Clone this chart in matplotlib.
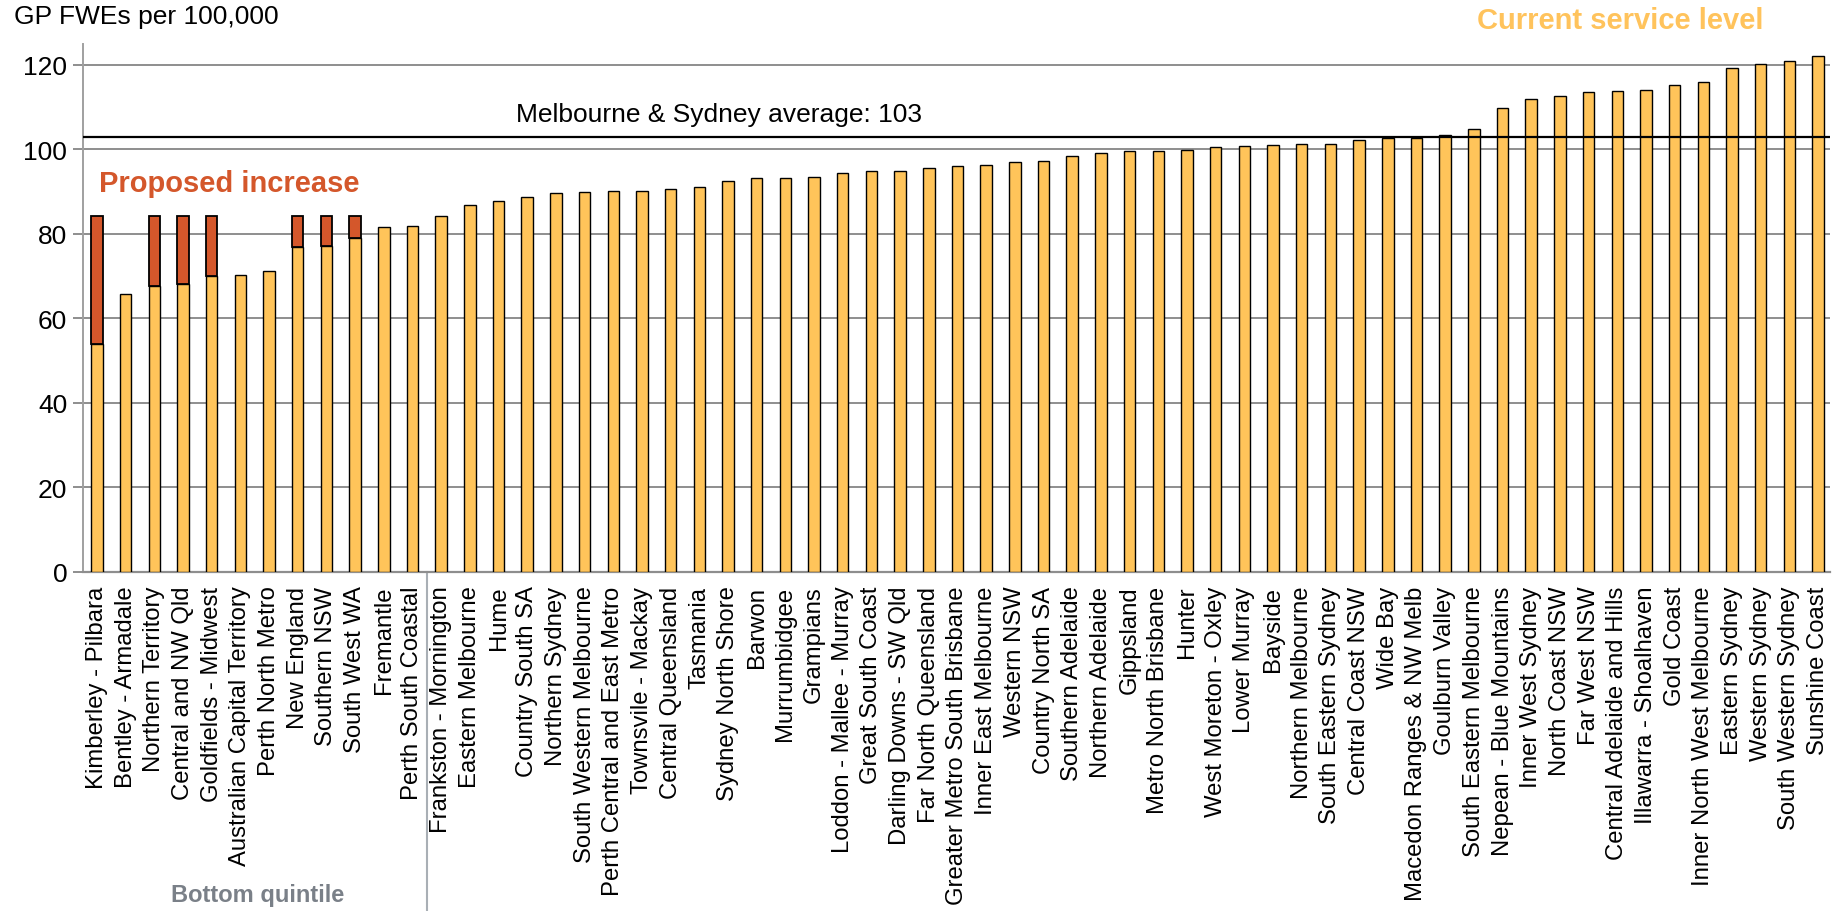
import matplotlib.pyplot as plt
from matplotlib.transforms import blended_transform_factory

plt.rcParams.update({
    "font.family": ["Liberation Sans", "DejaVu Sans"],
    "font.size": 19,
})

regions = [
    "Kimberley - Pilbara", "Bentley - Armadale", "Northern Territory",
    "Central and NW Qld", "Goldfields - Midwest", "Australian Capital Territory",
    "Perth North Metro", "New England", "Southern NSW", "South West WA",
    "Fremantle", "Perth South Coastal", "Frankston - Mornington",
    "Eastern Melbourne", "Hume", "Country South SA", "Northern Sydney",
    "South Western Melbourne", "Perth Central and East Metro",
    "Townsvile - Mackay", "Central Queensland", "Tasmania",
    "Sydney North Shore", "Barwon", "Murrumbidgee", "Grampians",
    "Loddon - Mallee - Murray", "Great South Coast", "Darling Downs - SW Qld",
    "Far North Queensland", "Greater Metro South Brisbane",
    "Inner East Melbourne", "Western NSW", "Country North SA",
    "Southern Adelaide", "Northern Adelaide", "Gippsland",
    "Metro North Brisbane", "Hunter", "West Moreton - Oxley", "Lower Murray",
    "Bayside", "Northern Melbourne", "South Eastern Sydney",
    "Central Coast NSW", "Wide Bay", "Macedon Ranges & NW Melb",
    "Goulburn Valley", "South Eastern Melbourne", "Nepean - Blue Mountains",
    "Inner West Sydney", "North Coast NSW", "Far West NSW",
    "Central Adelaide and Hills", "Illawarra - Shoalhaven", "Gold Coast",
    "Inner North West Melbourne", "Eastern Sydney", "Western Sydney",
    "South Western Sydney", "Sunshine Coast",
]

current_level = [
    54.0, 65.7, 67.6, 68.2, 69.9, 70.2, 71.3, 76.8, 77.1, 79.1,
    81.6, 81.8, 84.1, 86.9, 87.7, 88.8, 89.6, 89.9, 90.2, 90.2,
    90.5, 91.0, 92.4, 93.3, 93.3, 93.5, 94.4, 94.9, 94.9, 95.5,
    96.0, 96.3, 96.9, 97.2, 98.3, 99.1, 99.7, 99.7, 99.9, 100.5,
    100.8, 101.1, 101.3, 101.3, 102.1, 102.6, 102.7, 103.5, 104.7, 109.7,
    112.0, 112.5, 113.5, 113.7, 114.0, 115.2, 115.9, 119.3, 120.3, 121.0,
    122.2,
]

# proposed service level (None = no increase proposed)
proposed_level = [
    84.1, None, 84.1, 84.1, 84.1, None, None, 84.1, 84.1, 84.1,
] + [None] * 51

benchmark = 103
bottom_quintile_n = 12

BAR = "#FFC45A"
RED = "#D4572B"
GRID = "#8E8E8E"

fig = plt.figure(figsize=(18.48, 9.12), dpi=100)
ax = fig.add_axes([0.0447, 0.372, 0.9453, 0.579])

x = list(range(len(regions)))
ax.bar(x, current_level, width=0.4, color=BAR, edgecolor="black",
       linewidth=1.0, zorder=3)

inc_x = [i for i, p in enumerate(proposed_level) if p is not None]
inc_h = [proposed_level[i] - current_level[i] for i in inc_x]
inc_b = [current_level[i] for i in inc_x]
ax.bar(inc_x, inc_h, bottom=inc_b, width=0.4, color=RED, edgecolor="black",
       linewidth=1.3, zorder=3)

ax.axhline(benchmark, color="black", linewidth=1.6, zorder=4)
ax.text(14.6, 108.3, f"Melbourne & Sydney average: {benchmark}",
        ha="left", va="center", fontsize=19)

ax.set_xlim(-0.5, 60.4)
ax.set_ylim(0, 125)
ax.set_yticks(range(0, 121, 20))
ax.set_xticks(x)
ax.set_xticklabels(regions, rotation=90, ha="center", va="top")

ax.grid(axis="y", color=GRID, linewidth=1.4, zorder=0)
ax.tick_params(axis="y", length=7, width=1.4, color=GRID, pad=4, labelsize=19)
ax.tick_params(axis="x", length=0, pad=10, labelsize=17.2)
for side in ("top", "right"):
    ax.spines[side].set_visible(False)
ax.spines["left"].set_color("#A0A0A0")
ax.spines["left"].set_linewidth(1.4)
ax.spines["bottom"].set_color(GRID)
ax.spines["bottom"].set_linewidth(1.6)

ax.text(0.08, 92.1, "Proposed increase", color=RED, fontsize=21,
        fontweight="bold", ha="left", va="center")
ax.text(58.1, 130.6, "Current service level", color="#FFC35C", fontsize=21,
        fontweight="bold", ha="right", va="center", clip_on=False)

# separator below the axis for the bottom quintile
trans = blended_transform_factory(ax.transData, ax.transAxes)
sep = bottom_quintile_n - 0.5
ax.plot([sep, sep], [0, -0.66], transform=trans, color="#A9AFB5",
        linewidth=1.5, clip_on=False)
ax.text(5.6, -0.611, "Bottom quintile", transform=trans, color="#7A8088",
        fontsize=17, fontweight="bold", ha="center", va="center")

fig.text(0.0077, 0.981, "GP FWEs per 100,000", ha="left", va="center",
         fontsize=19)

fig.savefig("out.png", dpi=100)
